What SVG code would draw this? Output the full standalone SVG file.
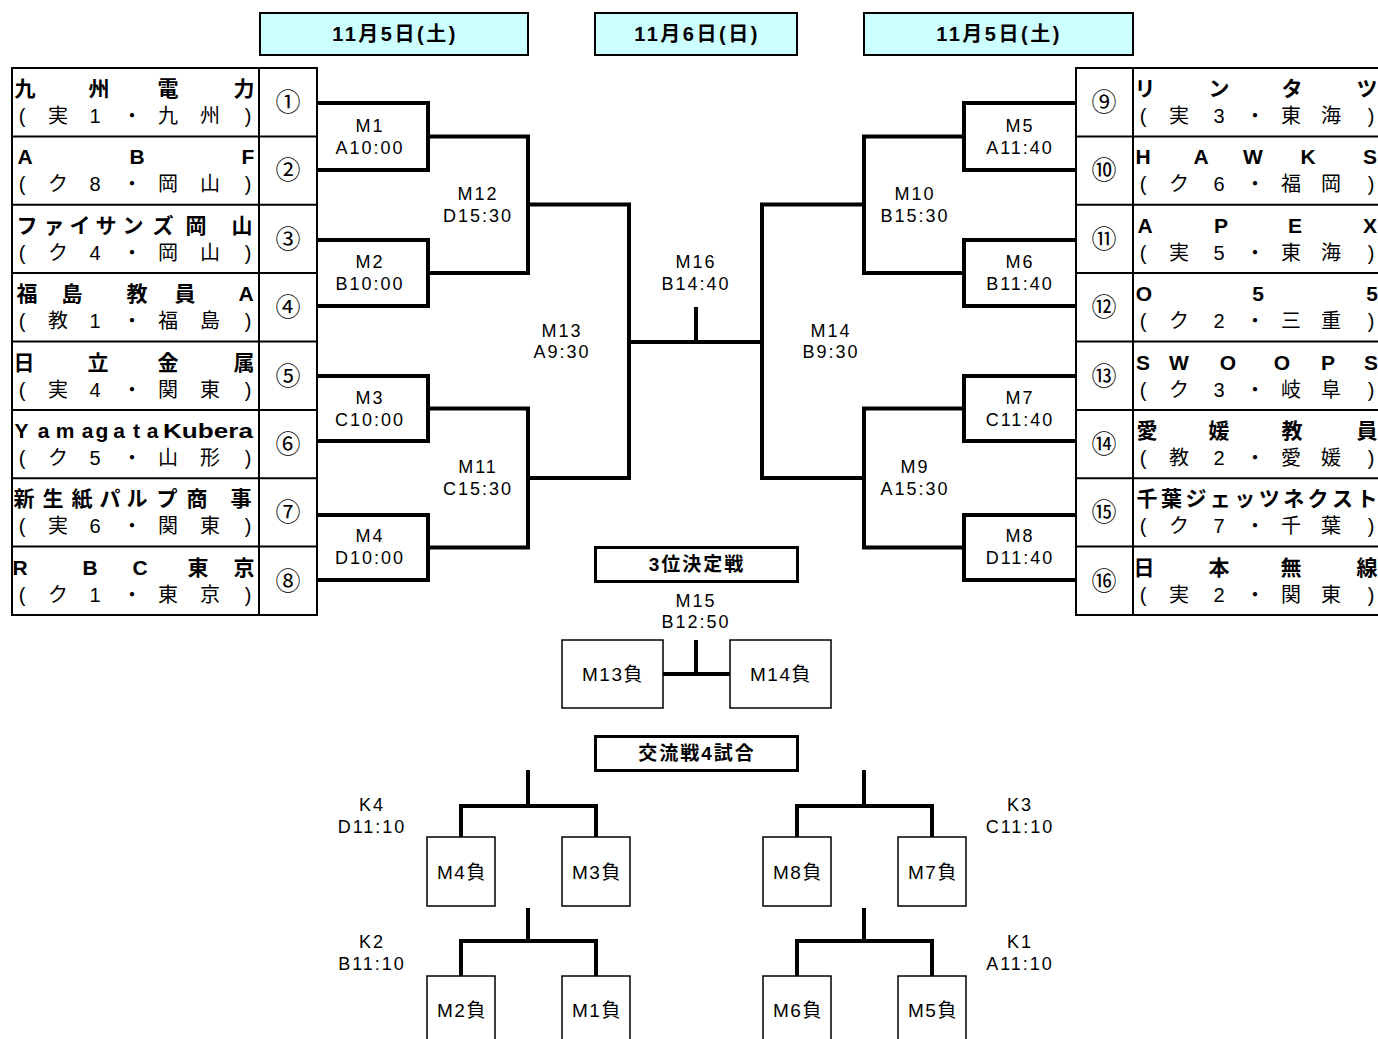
<svg xmlns="http://www.w3.org/2000/svg" width="1378" height="1039" viewBox="0 0 1378 1039">
<style>
text{font-family:"Liberation Sans","Noto Sans CJK JP",sans-serif;fill:#000}
.c{text-anchor:middle}
.nm{font-size:21px;font-weight:bold}
.sb{font-size:20px}
.num{font-size:25px;text-anchor:middle}
.lb{font-size:18px;letter-spacing:2px;text-anchor:middle}
.ls{font-size:19px;letter-spacing:1.5px;text-anchor:middle}
.hd{font-size:20px;font-weight:bold;letter-spacing:2.5px;text-anchor:middle}
.tt{font-size:19px;font-weight:bold;letter-spacing:2px;text-anchor:middle}
.hbox{fill:#CCFFFF;stroke:#000;stroke-width:2}
.tbox{fill:#fff;stroke:#000;stroke-width:3}
.tbl{fill:none;stroke:#000;stroke-width:2}
.lbox{fill:#fff;stroke:#000;stroke-width:1.5}
.br{fill:none;stroke:#000;stroke-width:4}
</style>
<rect width="1378" height="1039" fill="#fff"/>

<g id="headers">
<rect class="hbox" x="260" y="13" width="268" height="42"/>
<text class="hd" x="395" y="41">11月5日(土)</text>
<rect class="hbox" x="595" y="13" width="202" height="42"/>
<text class="hd" x="697" y="41">11月6日(日)</text>
<rect class="hbox" x="864" y="13" width="269" height="42"/>
<text class="hd" x="999" y="41">11月5日(土)</text>
</g>

<g id="table-left">
<rect class="tbl" x="12" y="68" width="305" height="547"/>
<path class="tbl" d="M259,68V615M12,136.4H317M12,204.75H317M12,273.1H317M12,341.5H317M12,409.9H317M12,478.25H317M12,546.6H317"/>
</g>
<g id="table-right">
<rect class="tbl" x="1076" y="68" width="310" height="547"/>
<path class="tbl" d="M1133,68V615M1076,136.4H1386M1076,204.75H1386M1076,273.1H1386M1076,341.5H1386M1076,409.9H1386M1076,478.25H1386M1076,546.6H1386"/>
</g>

<g id="team1"><text class="nm c" x="25 99 168 244" y="96">九州電力</text><text class="sb c" x="22 58 95 132 168 210 248" y="123">(実1・九州)</text><text class="num" x="288" y="111">①</text></g>
<g id="team2"><text class="nm c" x="25 137 248" y="164.4">ABF</text><text class="sb c" x="22 58 95 132 168 210 248" y="191.4">(ク8・岡山)</text><text class="num" x="288" y="179.4">②</text></g>
<g id="team3"><text class="nm c" x="27 54 80 106 133 163 196 242" y="232.8">ファイサンズ岡山</text><text class="sb c" x="22 58 95 132 168 210 248" y="259.8">(ク4・岡山)</text><text class="num" x="288" y="247.8">③</text></g>
<g id="team4"><text class="nm c" x="27 72 137 185 246" y="301.1">福島教員A</text><text class="sb c" x="22 58 95 132 168 210 248" y="328.1">(教1・福島)</text><text class="num" x="288" y="316.1">④</text></g>
<g id="team5"><text class="nm c" x="24 98 168 244" y="369.5">日立金属</text><text class="sb c" x="22 58 95 132 168 210 248" y="396.5">(実4・関東)</text><text class="num" x="288" y="384.5">⑤</text></g>
<g id="team6"><text class="nm c" x="21.5 43.5 65 87.5 102 119 136.5 152.5" y="437.9">Yamagata</text><text class="nm" x="163" y="437.9" textLength="90" lengthAdjust="spacingAndGlyphs">Kubera</text><text class="sb c" x="22 58 95 132 168 210 248" y="464.9">(ク5・山形)</text><text class="num" x="288" y="452.9">⑥</text></g>
<g id="team7"><text class="nm c" x="24 53 82 110 137 167 197 241" y="506.3">新生紙パルプ商事</text><text class="sb c" x="22 58 95 132 168 210 248" y="533.3">(実6・関東)</text><text class="num" x="288" y="521.3">⑦</text></g>
<g id="team8"><text class="nm c" x="20 90 140 198 244" y="574.6">RBC東京</text><text class="sb c" x="22 58 95 132 168 210 248" y="601.6">(ク1・東京)</text><text class="num" x="288" y="589.6">⑧</text></g>

<g id="team9"><text class="nm c" x="1145 1219 1292 1367" y="96">リンタツ</text><text class="sb c" x="1143 1179 1219 1255 1291 1331 1371" y="123">(実3・東海)</text><text class="num" x="1104" y="111">⑨</text></g>
<g id="team10"><text class="nm c" x="1143 1201 1253 1308 1370" y="164.4">HAWKS</text><text class="sb c" x="1143 1179 1219 1255 1291 1331 1371" y="191.4">(ク6・福岡)</text><text class="num" x="1104" y="179.4">⑩</text></g>
<g id="team11"><text class="nm c" x="1145 1221 1295 1370" y="232.8">APEX</text><text class="sb c" x="1143 1179 1219 1255 1291 1331 1371" y="259.8">(実5・東海)</text><text class="num" x="1104" y="247.8">⑪</text></g>
<g id="team12"><text class="nm c" x="1144 1258 1372" y="301.1">O55</text><text class="sb c" x="1143 1179 1219 1255 1291 1331 1371" y="328.1">(ク2・三重)</text><text class="num" x="1104" y="316.1">⑫</text></g>
<g id="team13"><text class="nm c" x="1143 1179 1228 1282 1328 1371" y="369.5">SWOOPS</text><text class="sb c" x="1143 1179 1219 1255 1291 1331 1371" y="396.5">(ク3・岐阜)</text><text class="num" x="1104" y="384.5">⑬</text></g>
<g id="team14"><text class="nm c" x="1147 1219 1292 1367" y="437.9">愛媛教員</text><text class="sb c" x="1143 1179 1219 1255 1291 1331 1371" y="464.9">(教2・愛媛)</text><text class="num" x="1104" y="452.9">⑭</text></g>
<g id="team15"><text class="nm c" x="1147 1171.4 1195.9 1220.3 1244.8 1269.2 1293.7 1318.1 1342.6 1367" y="506.3">千葉ジェッツネクスト</text><text class="sb c" x="1143 1179 1219 1255 1291 1331 1371" y="533.3">(ク7・千葉)</text><text class="num" x="1104" y="521.3">⑮</text></g>
<g id="team16"><text class="nm c" x="1144 1219 1291 1367" y="574.6">日本無線</text><text class="sb c" x="1143 1179 1219 1255 1291 1331 1371" y="601.6">(実2・関東)</text><text class="num" x="1104" y="589.6">⑯</text></g>

<g id="connectors">
<path class="br" d="M317,103H428V170H317M317,240H428V306H317M317,376H428V441H317M317,515H428V580H317"/>
<path class="br" d="M428,136.5H528V273H428M428,408.5H528V547.5H428"/>
<path class="br" d="M528,204.5H629V478H528M629,342H762M696,307V342"/>
<path class="br" d="M1076,103H964V170H1076M1076,240H964V306H1076M1076,376H964V441H1076M1076,515H964V580H1076"/>
<path class="br" d="M964,136.5H864V273H964M964,408.5H864V547.5H964"/>
<path class="br" d="M864,204.5H762V478H864"/>
<path class="br" d="M663,674H730M696,640V674"/>
<path class="br" d="M528,770V806M461,837V806H596V837M528,908V941M461,976V941H596V976"/>
<path class="br" d="M864,770V806M797,837V806H932V837M864,908V941M797,976V941H932V976"/>
</g>

<g id="M1"><text class="lb" x="370" y="132">M1</text><text class="lb" x="370" y="154">A10:00</text></g>
<g id="M2"><text class="lb" x="370" y="268">M2</text><text class="lb" x="370" y="290">B10:00</text></g>
<g id="M3"><text class="lb" x="370" y="404">M3</text><text class="lb" x="370" y="426">C10:00</text></g>
<g id="M4"><text class="lb" x="370" y="542">M4</text><text class="lb" x="370" y="564">D10:00</text></g>
<g id="M12"><text class="lb" x="478" y="200">M12</text><text class="lb" x="478" y="222">D15:30</text></g>
<g id="M11"><text class="lb" x="478" y="473">M11</text><text class="lb" x="478" y="495">C15:30</text></g>
<g id="M13"><text class="lb" x="562" y="337">M13</text><text class="lb" x="562" y="358">A9:30</text></g>
<g id="M16"><text class="lb" x="696" y="268">M16</text><text class="lb" x="696" y="290">B14:40</text></g>
<g id="M14"><text class="lb" x="831" y="337">M14</text><text class="lb" x="831" y="358">B9:30</text></g>
<g id="M10"><text class="lb" x="915" y="200">M10</text><text class="lb" x="915" y="222">B15:30</text></g>
<g id="M9"><text class="lb" x="915" y="473">M9</text><text class="lb" x="915" y="495">A15:30</text></g>
<g id="M5"><text class="lb" x="1020" y="132">M5</text><text class="lb" x="1020" y="154">A11:40</text></g>
<g id="M6"><text class="lb" x="1020" y="268">M6</text><text class="lb" x="1020" y="290">B11:40</text></g>
<g id="M7"><text class="lb" x="1020" y="404">M7</text><text class="lb" x="1020" y="426">C11:40</text></g>
<g id="M8"><text class="lb" x="1020" y="542">M8</text><text class="lb" x="1020" y="564">D11:40</text></g>

<g id="third-title"><rect class="tbox" x="595.5" y="547.5" width="202" height="34"/><text class="tt" x="697" y="571">3位決定戦</text></g>
<g id="M15"><text class="lb" x="696" y="607">M15</text><text class="lb" x="696" y="628">B12:50</text></g>
<g id="M13L"><rect class="lbox" x="562" y="640" width="101" height="68"/><text class="ls" x="613" y="681">M13負</text></g>
<g id="M14L"><rect class="lbox" x="730" y="640" width="101" height="68"/><text class="ls" x="781" y="681">M14負</text></g>

<g id="exch-title"><rect class="tbox" x="595.5" y="736.5" width="202" height="34"/><text class="tt" x="697" y="760">交流戦4試合</text></g>
<g id="K4"><text class="lb" x="372" y="811">K4</text><text class="lb" x="372" y="833">D11:10</text></g>
<g id="K2"><text class="lb" x="372" y="948">K2</text><text class="lb" x="372" y="970">B11:10</text></g>
<g id="K3"><text class="lb" x="1020" y="811">K3</text><text class="lb" x="1020" y="833">C11:10</text></g>
<g id="K1"><text class="lb" x="1020" y="948">K1</text><text class="lb" x="1020" y="970">A11:10</text></g>
<g id="M4L"><rect class="lbox" x="427" y="837" width="68" height="69"/><text class="ls" x="462" y="879">M4負</text></g>
<g id="M3L"><rect class="lbox" x="562" y="837" width="68" height="69"/><text class="ls" x="597" y="879">M3負</text></g>
<g id="M8L"><rect class="lbox" x="763" y="837" width="68" height="69"/><text class="ls" x="798" y="879">M8負</text></g>
<g id="M7L"><rect class="lbox" x="898" y="837" width="68" height="69"/><text class="ls" x="933" y="879">M7負</text></g>
<g id="M2L"><rect class="lbox" x="427" y="976" width="68" height="75"/><text class="ls" x="462" y="1017">M2負</text></g>
<g id="M1L"><rect class="lbox" x="562" y="976" width="68" height="75"/><text class="ls" x="597" y="1017">M1負</text></g>
<g id="M6L"><rect class="lbox" x="763" y="976" width="68" height="75"/><text class="ls" x="798" y="1017">M6負</text></g>
<g id="M5L"><rect class="lbox" x="898" y="976" width="68" height="75"/><text class="ls" x="933" y="1017">M5負</text></g>
</svg>
